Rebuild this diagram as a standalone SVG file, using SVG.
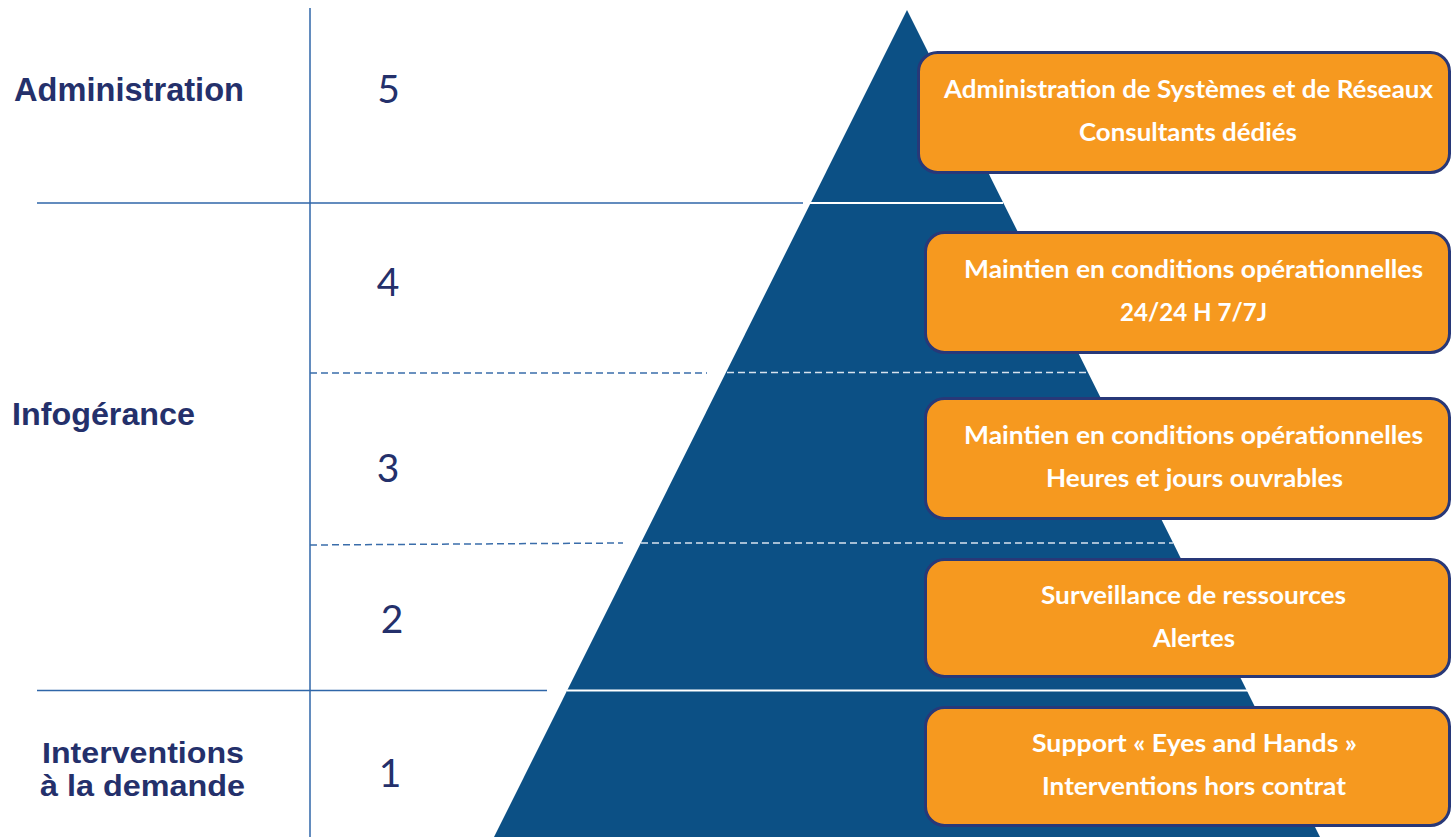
<svg xmlns="http://www.w3.org/2000/svg" width="1451" height="837" viewBox="0 0 1451 837">
<style>
.lbl{font-family:"Liberation Sans",Arial,sans-serif;font-weight:bold;fill:#24306B;}
.num{font-family:Lato,"Open Sans",sans-serif;font-size:39px;fill:#24306B;text-anchor:middle;}
.box{fill:#F6991F;stroke:#283878;stroke-width:3;}
.bt{font-family:Lato,"Open Sans",sans-serif;font-weight:bold;font-size:24px;fill:#FFFFFF;}
.sep{stroke:#2F66A8;stroke-width:1.5;fill:none;}
.dsep{stroke:#3A6DAA;stroke-width:1.5;stroke-dasharray:7 4;fill:none;}
.wsep{stroke:#FFFFFF;stroke-width:2;fill:none;}
.wdsep{stroke:#D8E2EE;stroke-width:1.5;stroke-dasharray:7 4;fill:none;}
</style>
<rect width="1451" height="837" fill="#FFFFFF"/>
<g id="pyramid">
<polygon points="907,10 1320,837 494,837" fill="#0C5085"/>
</g>
<g id="connectors">
<line class="sep" x1="310" y1="8" x2="310" y2="837"/>
<line class="sep" x1="37" y1="203" x2="803" y2="203"/>
<line class="sep" x1="37" y1="690.5" x2="547" y2="690.5"/>
<line class="dsep" x1="310" y1="373" x2="707" y2="373"/>
<line class="dsep" x1="310" y1="545" x2="623" y2="543"/>
<line class="wsep" x1="810" y1="203" x2="1003" y2="203"/>
<line class="wsep" x1="567" y1="690.5" x2="1250" y2="690.5"/>
<line class="wdsep" x1="727" y1="372.5" x2="1087" y2="372.5"/>
<line class="wdsep" x1="641" y1="543" x2="1173" y2="543"/>
</g>
<g id="label-administration">
<text class="lbl" x="14" y="101" font-size="32.5" textLength="230" lengthAdjust="spacingAndGlyphs">Administration</text>
</g>
<g id="label-infogerance">
<text class="lbl" x="12" y="425" font-size="32" textLength="183" lengthAdjust="spacingAndGlyphs">Infogérance</text>
</g>
<g id="label-interventions">
<text class="lbl" x="42" y="763" font-size="29" textLength="202" lengthAdjust="spacingAndGlyphs">Interventions</text>
<text class="lbl" x="40" y="796" font-size="29" textLength="205" lengthAdjust="spacingAndGlyphs">à la demande</text>
</g>
<g id="levels">
<text class="num" x="388.5" y="103">5</text>
<text class="num" x="388" y="296">4</text>
<text class="num" x="388" y="482">3</text>
<text class="num" x="392" y="633">2</text>
<text class="num" x="390" y="787">1</text>
</g>
<g id="box5">
<rect class="box" x="918.5" y="52.5" width="531" height="120" rx="19"/>
<text class="bt" x="944" y="98" textLength="489" lengthAdjust="spacingAndGlyphs">Administration de Systèmes et de Réseaux</text>
<text class="bt" x="1079" y="141" textLength="218" lengthAdjust="spacingAndGlyphs">Consultants dédiés</text>
</g>
<g id="box4">
<rect class="box" x="925.5" y="232.5" width="524" height="120" rx="19"/>
<text class="bt" x="964" y="278" textLength="459" lengthAdjust="spacingAndGlyphs">Maintien en conditions opérationnelles</text>
<text class="bt" x="1120" y="321" textLength="147" lengthAdjust="spacingAndGlyphs">24/24 H 7/7J</text>
</g>
<g id="box3">
<rect class="box" x="925.5" y="398.5" width="524" height="120" rx="19"/>
<text class="bt" x="964" y="444" textLength="459" lengthAdjust="spacingAndGlyphs">Maintien en conditions opérationnelles</text>
<text class="bt" x="1046" y="487" textLength="297" lengthAdjust="spacingAndGlyphs">Heures et jours ouvrables</text>
</g>
<g id="box2">
<rect class="box" x="925.5" y="559.5" width="524" height="117" rx="19"/>
<text class="bt" x="1041" y="604" textLength="305" lengthAdjust="spacingAndGlyphs">Surveillance de ressources</text>
<text class="bt" x="1153" y="647" textLength="82" lengthAdjust="spacingAndGlyphs">Alertes</text>
</g>
<g id="box1">
<rect class="box" x="925.5" y="707.5" width="524" height="118" rx="19"/>
<text class="bt" x="1032" y="752" textLength="325" lengthAdjust="spacingAndGlyphs">Support « Eyes and Hands »</text>
<text class="bt" x="1042" y="795" textLength="304" lengthAdjust="spacingAndGlyphs">Interventions hors contrat</text>
</g>
</svg>
